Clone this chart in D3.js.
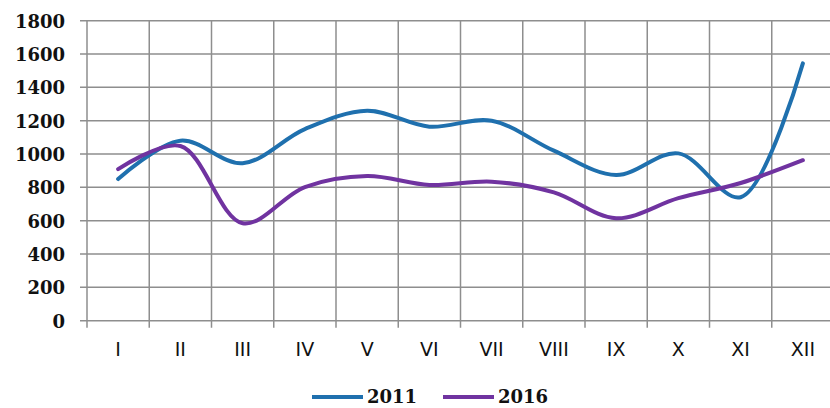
<!DOCTYPE html>
<html><head><meta charset="utf-8">
<script src="https://cdn.jsdelivr.net/npm/d3@7"></script>
<style>
html,body{margin:0;padding:0;background:#fff;}
svg{display:block;}
</style></head>
<body>
<script>
const months = ["I","II","III","IV","V","VI","VII","VIII","IX","X","XI","XII"];
const values2011 = [850,1080,945,1150,1260,1164,1200,1020,874,1004,741,1544];
const values2016 = [909,1048,585,802,868,814,834,770,615,735,826,963];
const yTicks = [0,200,400,600,800,1000,1200,1400,1600,1800];
const seriesNames = ["2011","2016"];
const seriesColors = ["#1f70ae","#7033a0"];

const W = 830, H = 408;
const svg = d3.select("body").append("svg").attr("width", W).attr("height", H);

const left = 87, bw = 62.25;
const x = d3.scaleBand().domain(months).range([left, left + bw*12]).padding(0);
const y = d3.scaleLinear().domain([0,1800]).range([320.7, 20.7]);
const grid = "#8e8e8e";

// horizontal gridlines
svg.append("g").selectAll("line").data(yTicks).join("line")
  .attr("x1", left-7).attr("x2", W).attr("y1", d=>y(d)).attr("y2", d=>y(d))
  .attr("stroke", grid).attr("stroke-width", 1.5);

// vertical gridlines at band boundaries
svg.append("g").selectAll("line").data(months).join("line")
  .attr("x1", d=>x(d)).attr("x2", d=>x(d)).attr("y1", y(1800)).attr("y2", y(0)+7)
  .attr("stroke", grid).attr("stroke-width", 1.5);

// y axis labels
const yAxis = d3.axisLeft(y).tickValues(yTicks).tickFormat(d3.format("d")).tickSize(0).tickPadding(22);
const gy = svg.append("g").attr("transform", `translate(${left},0)`).call(yAxis);
gy.select(".domain").remove();
gy.selectAll("text").attr("font-family","'DejaVu Serif'").attr("font-weight","bold")
  .attr("font-size","18px").attr("fill","#111").attr("dy","0.36em");

// x axis labels
const xAxis = d3.axisBottom(x).tickSize(0).tickPadding(22);
const gx = svg.append("g").attr("transform", `translate(0,${y(0)})`).call(xAxis);
gx.select(".domain").remove();
gx.selectAll("text").attr("font-family","'DejaVu Sans'").attr("font-size","19px")
  .attr("fill","#111").attr("dy","0.71em");

// lines
const line = d3.line().x((d,i)=>x(months[i]) + x.bandwidth()/2).y(d=>y(d)).curve(d3.curveCatmullRom.alpha(0.5));
[values2011, values2016].forEach((vals, k) => {
  svg.append("path").datum(vals).attr("d", line).attr("fill","none")
    .attr("stroke", seriesColors[k]).attr("stroke-width", 4).attr("stroke-linecap","round");
});

// legend
const legendX = [312, 443];
seriesNames.forEach((name,k)=>{
  const g = svg.append("g").attr("transform", `translate(${legendX[k]},397)`);
  g.append("line").attr("x1",0).attr("x2",51).attr("y1",0).attr("y2",0)
    .attr("stroke", seriesColors[k]).attr("stroke-width",4);
  g.append("text").attr("x",55).attr("y",6).text(name)
    .attr("font-family","'DejaVu Serif'").attr("font-weight","bold").attr("font-size","18px").attr("fill","#111");
});
</script>
</body></html>
